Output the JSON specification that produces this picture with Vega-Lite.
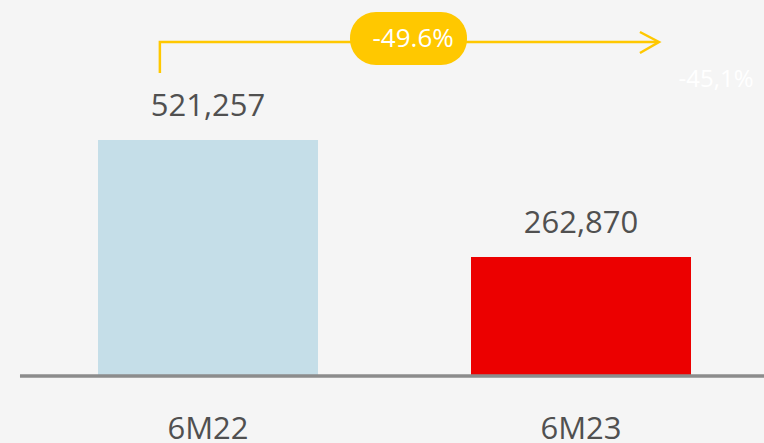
{
  "$schema": "https://vega.github.io/schema/vega-lite/v6.json",
  "width": 764,
  "height": 443,
  "padding": 0,
  "autosize": {"type": "none"},
  "background": "#F5F5F5",
  "view": {"stroke": null},
  "config": {"font": "Open Sans"},
  "datasets": {
    "bars": [
      {"period": "6M22", "pos": 1, "value": 521257, "label": "521,257"},
      {"period": "6M23", "pos": 2, "value": 262870, "label": "262,870"}
    ],
    "arrow": [
      {"seg": "shaft", "o": 1, "x": 0.871, "y": 669236},
      {"seg": "shaft", "o": 2, "x": 0.871, "y": 737706},
      {"seg": "shaft", "o": 3, "x": 2.205, "y": 737706},
      {"seg": "head", "o": 1, "x": 2.158, "y": 759793},
      {"seg": "head", "o": 2, "x": 2.209, "y": 737706},
      {"seg": "head", "o": 3, "x": 2.158, "y": 713410}
    ],
    "pill": [
      {"x": 1.3807, "x2": 1.6944, "y": 803967, "y2": 686906, "xc": 1.55, "yc": 745000, "label": "-49.6%"}
    ],
    "note": [
      {"x": 2.362, "y": 653775, "label": "-45,1%"}
    ]
  },
  "layer": [
    {
      "data": {"name": "bars"},
      "mark": {"type": "bar", "width": 220},
      "encoding": {
        "x": {"field": "pos", "type": "quantitative", "scale": {"domain": [0.4424, 2.4906], "nice": false, "zero": false, "padding": 0}, "axis": null},
        "y": {"field": "value", "type": "quantitative", "scale": {"domain": [-147983, 830471], "nice": false, "zero": false, "padding": 0}, "axis": null},
        "color": {"field": "period", "type": "nominal", "scale": {"domain": ["6M22", "6M23"], "range": ["#C5DEE8", "#EC0000"]}, "legend": null}
      }
    },
    {
      "data": {"name": "bars"},
      "mark": {"type": "rule", "color": "#8C8C8C", "strokeWidth": 3},
      "encoding": {
        "x": {"datum": 0.4960, "type": "quantitative"},
        "x2": {"datum": 2.4906},
        "y": {"datum": 0, "type": "quantitative"}
      }
    },
    {
      "data": {"name": "bars"},
      "mark": {"type": "text", "fontSize": 31, "color": "#505050", "baseline": "middle", "dy": -33},
      "encoding": {
        "x": {"field": "pos", "type": "quantitative"},
        "y": {"field": "value", "type": "quantitative"},
        "text": {"field": "label"}
      }
    },
    {
      "data": {"name": "bars"},
      "mark": {"type": "text", "fontSize": 31, "color": "#505050", "baseline": "middle"},
      "encoding": {
        "x": {"field": "pos", "type": "quantitative"},
        "y": {"datum": -119000, "type": "quantitative"},
        "text": {"field": "period"}
      }
    },
    {
      "data": {"name": "arrow"},
      "mark": {"type": "line", "color": "#FFC800", "strokeWidth": 2.5},
      "encoding": {
        "x": {"field": "x", "type": "quantitative"},
        "y": {"field": "y", "type": "quantitative"},
        "detail": {"field": "seg"},
        "order": {"field": "o"}
      }
    },
    {
      "data": {"name": "pill"},
      "mark": {"type": "bar", "color": "#FFC800", "cornerRadius": 26},
      "encoding": {
        "x": {"field": "x", "type": "quantitative"},
        "x2": {"field": "x2"},
        "y": {"field": "y", "type": "quantitative"},
        "y2": {"field": "y2"}
      }
    },
    {
      "data": {"name": "pill"},
      "mark": {"type": "text", "fontSize": 26, "color": "#FFFFFF", "baseline": "middle"},
      "encoding": {
        "x": {"field": "xc", "type": "quantitative"},
        "y": {"field": "yc", "type": "quantitative"},
        "text": {"field": "label"}
      }
    },
    {
      "data": {"name": "note"},
      "mark": {"type": "text", "fontSize": 24, "color": "#FFFFFF", "baseline": "middle"},
      "encoding": {
        "x": {"field": "x", "type": "quantitative"},
        "y": {"field": "y", "type": "quantitative"},
        "text": {"field": "label"}
      }
    }
  ]
}
